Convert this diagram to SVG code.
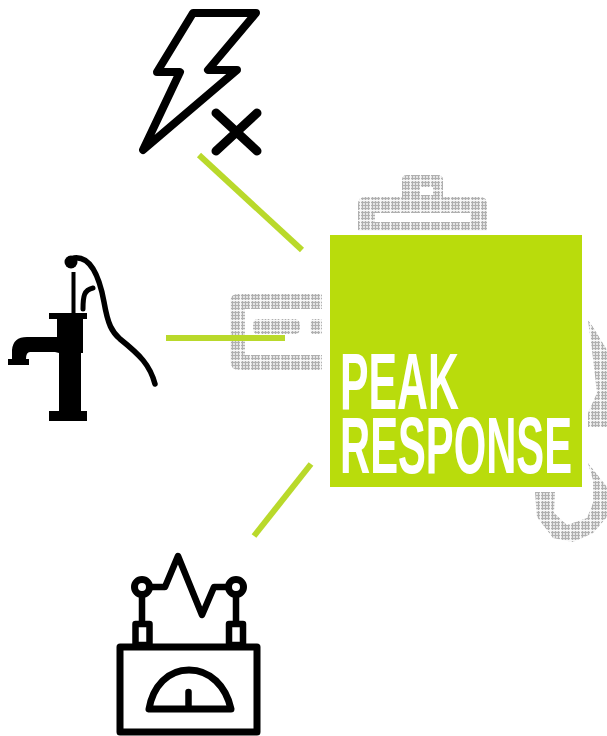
<svg xmlns="http://www.w3.org/2000/svg" width="607" height="736" viewBox="0 0 607 736">
<style>
.ht{fill:url(#dots);fill-rule:evenodd}
.ink{fill:none;stroke:#000;stroke-linejoin:round;stroke-linecap:round}
.solid{fill:#000}
.conn{stroke:#b9d92b;stroke-width:6;fill:none}
.lbl{font-family:"Liberation Sans",Arial,sans-serif;font-weight:700;font-size:80px;fill:#fff}
</style>
<defs>
<pattern id="dots" width="10" height="10" patternUnits="userSpaceOnUse">
<rect width="10" height="10" fill="#e4e4e4"/>
<path d="M2 0h1v10h-1zM5 0h1v10h-1zM8 0h1v10h-1zM0 2h10v1h-10zM0 5h10v1h-10zM0 8h10v1h-10z" fill="#b0b0b0"/>
<path d="M0 0h10v1h-10zM0 0h1v10h-1z" fill="#f8f8f8"/>
</pattern>
<filter id="soft" x="-5%" y="-5%" width="110%" height="110%"><feGaussianBlur stdDeviation="0.6"/></filter>
</defs>
<g id="background-icons">
<path class="ht" d="M402 197V180Q402 175 407 175H438Q443 175 443 180V197H480Q487 197 487 204V231H358V204Q358 197 365 197ZM420 187V195H433V187ZM375 213V222H470V213Z"/>
<path class="ht" d="M322 294V309H245V355H322V370H240Q230 370 230 360V302Q230 294 238 294ZM258 319H295Q300 319 300 326V328Q300 334 295 334H258Q253 334 253 328V326Q253 319 258 319ZM322 319V334H313Q310 334 310 328V325Q310 319 313 319Z"/>
<path class="ht" d="M588 320L593 327L607 350V427H588V413L597 393L592 350Z"/>
<path class="ht" d="M588 463L607 487V517L593 533L573 542L553 538L537 517L535 492H555L554 513L567 525L587 518L593 503V480Z"/>
</g>
<g id="peak-response">
<rect x="330" y="235" width="252" height="252" fill="#b9dc0c"/>
<text class="lbl" transform="translate(340 409) scale(.535 1)">PEAK</text>
<text class="lbl" transform="translate(340 473) scale(.522 1)">RESPONSE</text>
</g>
<g id="connectors">
<path class="conn" d="M199 155L302 250"/>
<path class="conn" d="M166 338H285"/>
<path class="conn" d="M311 464L254 536"/>
</g>
<g id="power-outage" filter="url(#soft)">
<path class="ink" stroke-width="8" d="M193 13H256L208 70H237L143 150L180 72H157Z"/>
<path class="ink" stroke-width="9" d="M216 113L257 151M257 113L216 151"/>
</g>
<g id="water-pump" filter="url(#soft)">
<path class="solid" d="M49 313H87V319H83V353H81V411H87V421H49V411H59V353L55 352H30Q26 352 26 359H29V365H8V359H12V350Q13 337 27 337H57V319H49Z"/>
<rect class="solid" x="71.500" y="272" width="4" height="41"/>
<circle class="solid" cx="71" cy="262" r="6.500"/>
<path class="ink" stroke-width="5.500" d="M74 258C90 256 99 275 104 302C108 325 112 332 120 339C140 355 150 365 155 384"/>
<path class="ink" stroke-width="5" d="M83 309C83 296 84 290 93 288"/>
</g>
<g id="meter" filter="url(#soft)">
<rect class="ink" x="120" y="647" width="137" height="85" stroke-width="7"/>
<rect class="ink" x="135.500" y="624" width="14" height="21" stroke-width="6.500"/>
<rect class="ink" x="229" y="624" width="14" height="21" stroke-width="6.500"/>
<path class="ink" stroke-width="6.500" d="M142 595V622M236 595V622"/>
<circle class="ink" cx="142" cy="587" r="7.500" stroke-width="7"/>
<circle class="ink" cx="236" cy="587" r="7.500" stroke-width="7"/>
<path class="ink" stroke-width="6.500" d="M150 587H165L178 556L202 615L214 587H228" stroke-linecap="butt"/>
<path class="ink" stroke-width="7" d="M149 709H231C226 686 210 670 189 670C168 670 153 686 149 709Z"/>
<path class="ink" stroke-width="6.500" d="M188.500 692V708"/>
</g>
</svg>
